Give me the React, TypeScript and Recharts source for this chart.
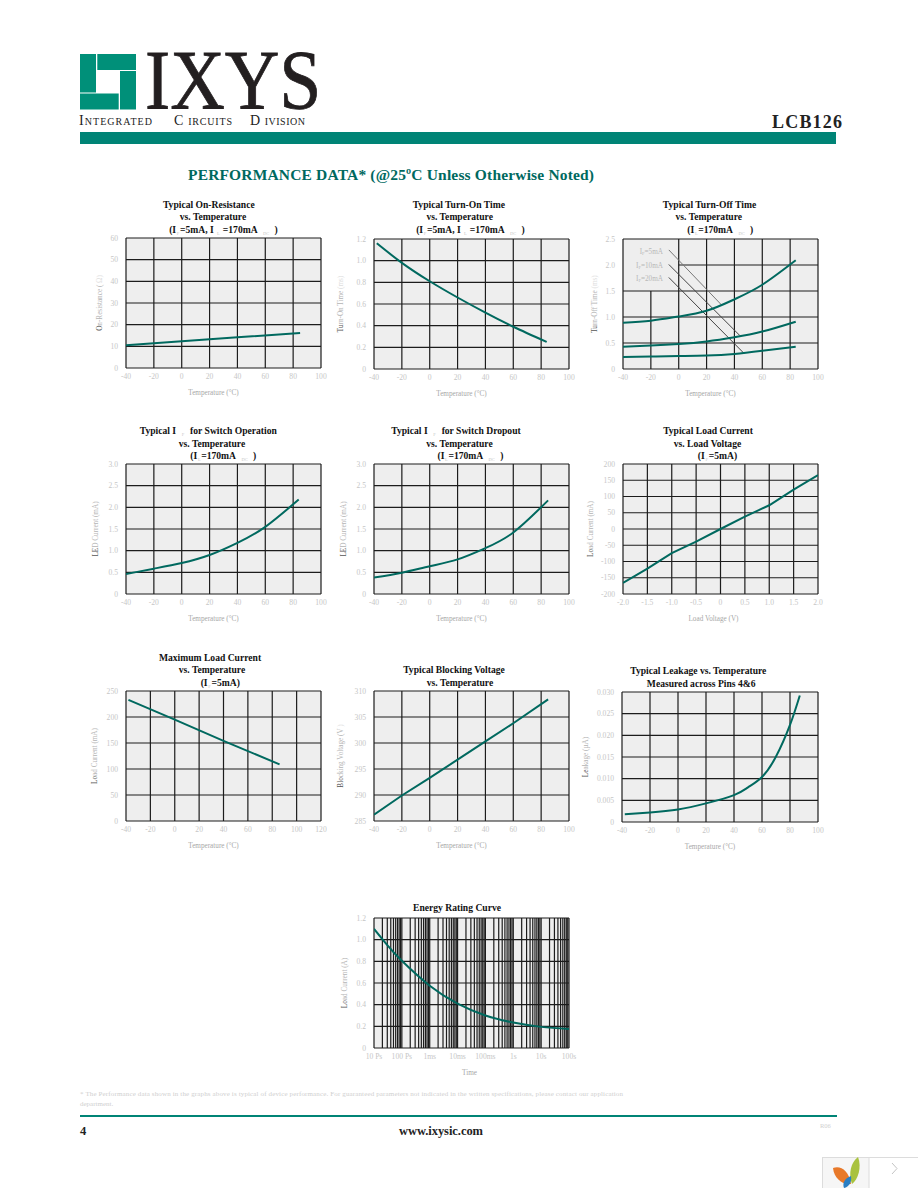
import React from 'react';
import { LineChart, Line, XAxis, YAxis, CartesianGrid, ReferenceLine } from 'recharts';

const SERIF = '"Liberation Serif", serif';
const TEAL = '#00695f';

// x axes
const TEMP_TICKS = [-40, -20, 0, 20, 40, 60, 80, 100];
const TEMP_TICKS_WIDE = [-40, -20, 0, 20, 40, 60, 80, 100, 120];
const VOLT_TICKS = [-2, -1.5, -1, -0.5, 0, 0.5, 1, 1.5, 2];
const VOLT_LABELS = ['-2.0', '-1.5', '-1.0', '-0.5', '0', '0.5', '1.0', '1.5', '2.0'];
const TIME_TICKS = [0.00001, 0.0001, 0.001, 0.01, 0.1, 1, 10, 100];
const TIME_LABELS = ['10 Ps', '100 Ps', '1ms', '10ms', '100ms', '1s', '10s', '100s'];
const TIME_MINOR = [
  0.00001, 0.00002, 0.00003, 0.00004, 0.00005, 0.00006, 0.00007, 0.00008, 0.00009,
  0.0001, 0.0002, 0.0003, 0.0004, 0.0005, 0.0006, 0.0007, 0.0008, 0.0009,
  0.001, 0.002, 0.003, 0.004, 0.005, 0.006, 0.007, 0.008, 0.009,
  0.01, 0.02, 0.03, 0.04, 0.05, 0.06, 0.07, 0.08, 0.09,
  0.1, 0.2, 0.3, 0.4, 0.5, 0.6, 0.7, 0.8, 0.9,
  1, 2, 3, 4, 5, 6, 7, 8, 9,
  10, 20, 30, 40, 50, 60, 70, 80, 90, 100,
];

// On-resistance
const ON_RES_T = [-40, 0, 40, 85];
const ON_RES = [10.5, 12.4, 14.2, 16.1];
// Turn-on time
const TON_T = [-38, -20, 0, 20, 40, 60, 84];
const TON = [1.16, 0.98, 0.81, 0.66, 0.52, 0.39, 0.25];
// Turn-off time, three LED currents
const TOFF_T = [-40, -20, 0, 20, 40, 60, 84];
const TOFF_5 = [0.89, 0.93, 1.01, 1.12, 1.34, 1.62, 2.09];
const TOFF_10 = [0.43, 0.45, 0.48, 0.53, 0.61, 0.72, 0.91];
const TOFF_20 = [0.23, 0.24, 0.25, 0.26, 0.29, 0.35, 0.43];
// LED current for operation / dropout
const LED_OP_T = [-40, -20, 0, 20, 40, 60, 84];
const LED_OP = [0.46, 0.585, 0.715, 0.9, 1.18, 1.55, 2.18];
const LED_DROP_T = [-40, -20, 0, 20, 40, 60, 85];
const LED_DROP = [0.38, 0.49, 0.64, 0.8, 1.06, 1.42, 2.16];
// Load current vs load voltage
const LOAD_V = [-2, -1.5, -1, -0.5, 0, 0.5, 1, 1.5, 2];
const LOAD_I = [-166, -122, -74, -39, 0, 38, 73, 121, 166];
// Maximum load current
const MAX_LOAD_T = [-38, 0, 40, 86];
const MAX_LOAD = [233, 195, 154, 109];
// Blocking voltage
const BLOCK_T = [-40, -20, 0, 20, 40, 60, 85];
const BLOCK = [286.2, 289.9, 293.3, 296.8, 300.3, 303.8, 308.4];
// Leakage
const LEAK_T = [-38, -20, 0, 20, 40, 50, 60, 70, 80, 87];
const LEAK = [0.0018, 0.0022, 0.0029, 0.0043, 0.0062, 0.008, 0.0104, 0.0151, 0.0224, 0.0292];
// Energy rating
const ENERGY_T = [0.00001, 0.00003, 0.0001, 0.001, 0.01, 0.1, 1, 10, 100];
const ENERGY = [1.1, 0.95, 0.805, 0.575, 0.41, 0.3, 0.235, 0.195, 0.176];

const rows = (xs: number[], ys: number[]) => xs.map((x, i) => ({ x, y: ys[i] }));

// {F|4} is a pale subscript in a 4px wide slot
const renderMarked = (s: string) =>
  s.split(/(\{[^}]*\})/).map((part, i) => {
    if (!part.startsWith('{')) return <span key={i}>{part}</span>;
    const [sub, slot] = part.slice(1, -1).split('|');
    return (
      <span
        key={i}
        style={{
          display: 'inline-block',
          width: Number(slot),
          textAlign: 'center',
          fontSize: 4.5,
          fontWeight: 400,
          color: '#c8c8c8',
          verticalAlign: -2,
          lineHeight: '6px',
        }}
      >
        {sub}
      </span>
    );
  });

const TitleLine = ({ text, cx, y }: { text: string; cx: number; y: number }) => (
  <div
    style={{
      position: 'absolute',
      left: cx - 150,
      top: y - 7,
      width: 300,
      height: 14,
      lineHeight: '14px',
      textAlign: 'center',
      fontFamily: SERIF,
      fontWeight: 700,
      fontSize: 9.6,
      color: '#111',
      whiteSpace: 'pre',
    }}
  >
    {renderMarked(text)}
  </div>
);

interface PerfProps {
  left: number;
  top: number;
  width?: number;
  height?: number;
  xTicks: number[];
  xLabels?: string[];
  xLog?: boolean;
  yTicks: number[];
  yLabels: string[];
  xTitle: string;
  xTitleDx?: number;
  yTitle: string[];
  yTitleDx: number;
  data: any[];
  keys?: string[];
  curve?: 'natural' | 'monotone' | 'linear';
  gridX?: number[];
  gridY?: number[];
  children?: React.ReactNode;
}

// left/top are the plot corner on the page
const PerfChart = (p: PerfProps) => {
  const w = p.width ?? 195;
  const h = p.height ?? 130;
  const m = { left: 40, top: 10, right: 20, bottom: 10 };
  const yAxisW = 30;
  const xAxisH = 34;
  const plotLeft = m.left + yAxisW;
  const cw = w + plotLeft + m.right;
  const ch = h + m.top + m.bottom + xAxisH;
  const keys = p.keys ?? ['y'];
  const ylo = p.yTicks[0];
  const yhi = p.yTicks[p.yTicks.length - 1];
  const xlo = p.xTicks[0];
  const xhi = p.xTicks[p.xTicks.length - 1];

  const xLabelEl = () => (
    <text
      x={plotLeft + w / 2 + (p.xTitleDx ?? -10)}
      y={m.top + h + 27}
      textAnchor="middle"
      fontFamily={SERIF}
      fontSize={7.2}
      fill="#a8a8a8"
    >
      {p.xTitle}
    </text>
  );
  const yx = plotLeft - p.yTitleDx;
  const yy = m.top + h / 2;
  const yLabelEl = () => (
    <text
      transform={`translate(${yx},${yy}) rotate(-90)`}
      textAnchor="middle"
      dy="0.3em"
      fontFamily={SERIF}
      fontSize={7.2}
    >
      <tspan fill="#555">{p.yTitle[0]}</tspan>
      <tspan fill="#b4b4b4">{p.yTitle[1]}</tspan>
      <tspan fill="#dedede">{p.yTitle[2]}</tspan>
    </text>
  );

  return (
    <div style={{ position: 'absolute', left: p.left - plotLeft, top: p.top - m.top }}>
      <LineChart width={cw} height={ch} data={p.data} margin={m}>
        <CartesianGrid
          stroke="#1c1c1c"
          strokeWidth={1.2}
          fill="#eeeeee"
          fillOpacity={1}
          verticalValues={p.gridX ?? p.xTicks}
          horizontalValues={p.gridY ?? p.yTicks}
        />
        <XAxis
          dataKey="x"
          type="number"
          scale={p.xLog ? 'log' : 'auto'}
          domain={[xlo, xhi]}
          ticks={p.xTicks}
          interval={0}
          height={xAxisH}
          axisLine={false}
          tickLine={false}
          tickMargin={0}
          allowDataOverflow
          tick={{ fontFamily: SERIF, fontSize: 7.6, fill: '#c6c6c6' }}
          tickFormatter={(v: number) => (p.xLabels ? p.xLabels[p.xTicks.indexOf(v)] : String(v))}
          label={{ content: xLabelEl }}
        />
        <YAxis
          type="number"
          domain={[ylo, yhi]}
          ticks={p.yTicks}
          interval={0}
          width={yAxisW}
          axisLine={false}
          tickLine={false}
          tick={{ fontFamily: SERIF, fontSize: 7.6, fill: '#c6c6c6' }}
          tickFormatter={(v: number) => p.yLabels[p.yTicks.indexOf(v)]}
          label={{ content: yLabelEl }}
        />
        {p.children}
        {keys.map((k) => (
          <Line
            key={k}
            dataKey={k}
            type={p.curve ?? 'natural'}
            stroke={TEAL}
            strokeWidth={2}
            dot={false}
            isAnimationActive={false}
          />
        ))}
      </LineChart>
    </div>
  );
};

const TOFF_ROWS = TOFF_T.map((x, i) => ({ x, a: TOFF_5[i], b: TOFF_10[i], c: TOFF_20[i] }));

const App = () => (
  <div style={{ position: 'absolute', left: 0, top: 0, width: 918, height: 1188, background: '#fff', overflow: 'hidden' }}>
    {/* page furniture */}
    <svg width={918} height={1188} style={{ position: 'absolute', left: 0, top: 0 }}>
      <g fill="#009079">
        <rect x={80} y={54} width={16} height={38.5} />
        <rect x={97.3} y={54} width={38.7} height={16} />
        <rect x={120} y={71} width={16} height={38.5} />
        <rect x={80} y={93.5} width={38.7} height={16} />
      </g>
      <g fontFamily={SERIF} fill="#222">
        <text x={79} y={125} fontSize={14} textLength={73}>
          I<tspan fontSize={10}>NTEGRATED</tspan>
        </text>
        <text x={174} y={125} fontSize={14} textLength={58}>
          C<tspan fontSize={10} dx={4}>IRCUITS</tspan>
        </text>
        <text x={250} y={125} fontSize={14} textLength={55}>
          D<tspan fontSize={10} dx={4}>IVISION</tspan>
        </text>
      </g>
      <text x={772} y={128} fontFamily={SERIF} fontWeight={700} fontSize={18} fill="#222" textLength={70}>LCB126</text>
      <rect x={80} y={132} width={756} height={12} fill="#008476" />
      <text x={188} y={180} fontFamily={SERIF} fontWeight={700} fontSize={15.5} fill="#00695f" textLength={406}>
        PERFORMANCE DATA* (@25ºC Unless Otherwise Noted)
      </text>
      <g fontFamily={SERIF} fontSize={7} fill="#cfcfcf">
        <text x={80} y={1096} textLength={543}>
          * The Performance data shown in the graphs above is typical of device performance.  For guaranteed parameters not indicated in the written specifications, please contact our application
        </text>
        <text x={80} y={1106}>department.</text>
        <text x={820} y={1128} fontSize={6.5}>R06</text>
      </g>
      <rect x={80} y={1115} width={757} height={2} fill="#008476" />
      <text x={80} y={1135} fontFamily={SERIF} fontWeight={700} fontSize={12.5} fill="#222">4</text>
      <text x={399} y={1135} fontFamily={SERIF} fontWeight={700} fontSize={12.5} fill="#222" textLength={84}>www.ixysic.com</text>
      {/* viewer badge */}
      <rect x={822.5} y={1157.5} width={100} height={40} fill="#fff" stroke="#dcdcdc" />
      <rect x={823} y={1158} width={46} height={30} fill="#f6f6f6" />
      <line x1={869} y1={1158} x2={869} y2={1188} stroke="#dcdcdc" />
      <path d="M833 1168 C840 1165 849 1170 851 1184 C842 1185 834 1178 833 1168Z" fill="#e8792a" />
      <path d="M858 1157 C862 1167 858 1180 852 1184 C848 1174 851 1162 858 1157Z" fill="#a9c23f" />
      <path d="M851 1176 C852 1182 849 1187 844 1188 C842 1183 845 1178 851 1176Z" fill="#2a7fc4" />
      <path d="M892 1163 L897 1168.5 L892 1174" fill="none" stroke="#c4c4c4" />
    </svg>
    <div
      style={{
        position: 'absolute',
        left: 145,
        top: 53,
        height: 55,
        lineHeight: '55px',
        fontFamily: SERIF,
        fontSize: 84,
        color: '#231f20',
        WebkitTextStroke: '0.8px #231f20',
        transform: 'scaleX(0.9)',
        transformOrigin: 'left center',
      }}
    >
      IXYS
    </div>

    {/* Row 1 */}
    <TitleLine text="Typical On-Resistance" cx={208.8} y={204.7} />
    <TitleLine text="vs. Temperature" cx={213} y={216.7} />
    <TitleLine text="(I{F|4}=5mA, I{L|9}=170mA{DC|17})" cx={223.5} y={230} />
    <PerfChart
      left={126} top={238}
      xTicks={TEMP_TICKS} yTicks={[0, 10, 20, 30, 40, 50, 60]} yLabels={['0', '10', '20', '30', '40', '50', '60']}
      xTitle="Temperature (°C)" yTitle={['O', 'n-Resistance (', '        Ω)']} yTitleDx={26}
      data={rows(ON_RES_T, ON_RES)} curve="linear"
    />

    <TitleLine text="Typical Turn-On Time" cx={458.8} y={204.7} />
    <TitleLine text="vs. Temperature" cx={459.7} y={216.7} />
    <TitleLine text="(I{F|4}=5mA, I{L|9}=170mA{DC|17})" cx={470.5} y={230} />
    <PerfChart
      left={374} top={239}
      xTicks={TEMP_TICKS} yTicks={[0, 0.2, 0.4, 0.6, 0.8, 1, 1.2]} yLabels={['0', '0.2', '0.4', '0.6', '0.8', '1.0', '1.2']}
      xTitle="Temperature (°C)" yTitle={['Tu', 'rn-On Time', '      (ms)']} yTitleDx={33}
      data={rows(TON_T, TON)}
    />

    <TitleLine text="Typical Turn-Off Time" cx={709.5} y={204.7} />
    <TitleLine text="vs. Temperature" cx={708.8} y={216.7} />
    <TitleLine text="(I{L|4}=170mA{DC|17})" cx={720.3} y={230} />
    <PerfChart
      left={623} top={239}
      xTicks={TEMP_TICKS} yTicks={[0, 0.5, 1, 1.5, 2, 2.5]} yLabels={['0', '0.5', '1.0', '1.5', '2.0', '2.5']}
      gridX={[-40, 0, 20, 40, 60, 80, 100]} gridY={[0, 0.5, 1, 1.5, 2.5]}
      xTitle="Temperature (°C)" yTitle={['Tu', 'rn-Off Time', '      (ms)']} yTitleDx={28}
      data={TOFF_ROWS} keys={['a', 'b', 'c']}
    >
      <ReferenceLine segment={[{ x: 0, y: 2 }, { x: 100, y: 2 }]} stroke="#1c1c1c" strokeWidth={1.2} />
      <ReferenceLine segment={[{ x: -20, y: 0 }, { x: -20, y: 1.5 }]} stroke="#1c1c1c" strokeWidth={1.2} />
      <ReferenceLine segment={[{ x: -7.1, y: 2.29 }, { x: 30.8, y: 1.23 }]} stroke="#777" strokeWidth={1} />
      <ReferenceLine segment={[{ x: -7.1, y: 2.01 }, { x: 44, y: 0.64 }]} stroke="#444" strokeWidth={1} />
      <ReferenceLine segment={[{ x: -7.1, y: 1.76 }, { x: 46.9, y: 0.3 }]} stroke="#444" strokeWidth={1} />
    </PerfChart>
    <svg width={60} height={50} style={{ position: 'absolute', left: 620, top: 245 }}>
      <g fontFamily={SERIF} fontSize={7.2} fill="#b8b8b8" textAnchor="end">
        <text x={43} y={9}>I<tspan fontSize={4.5} dy={1}>F</tspan><tspan dy={-1}>=5mA</tspan></text>
        <text x={43} y={23}>I<tspan fontSize={4.5} dy={1}>F</tspan><tspan dy={-1}>=10mA</tspan></text>
        <text x={43} y={36}>I<tspan fontSize={4.5} dy={1}>F</tspan><tspan dy={-1}>=20mA</tspan></text>
      </g>
    </svg>

    {/* Row 2 */}
    <TitleLine text="Typical I{F|14}for Switch Operation" cx={208.3} y={431} />
    <TitleLine text="vs. Temperature" cx={212} y={444} />
    <TitleLine text="(I{L|4}=170mA{DC|17})" cx={223.3} y={456} />
    <PerfChart
      left={126} top={464}
      xTicks={TEMP_TICKS} yTicks={[0, 0.5, 1, 1.5, 2, 2.5, 3]} yLabels={['0', '0.5', '1.0', '1.5', '2.0', '2.5', '3.0']}
      xTitle="Temperature (°C)" yTitle={['LE', 'D Current (mA)', '']} yTitleDx={30}
      data={rows(LED_OP_T, LED_OP)}
    />

    <TitleLine text="Typical I{F|14}for Switch Dropout" cx={456} y={431} />
    <TitleLine text="vs. Temperature" cx={459.5} y={444} />
    <TitleLine text="(I{L|4}=170mA{DC|17})" cx={470.5} y={456} />
    <PerfChart
      left={374} top={464}
      xTicks={TEMP_TICKS} yTicks={[0, 0.5, 1, 1.5, 2, 2.5, 3]} yLabels={['0', '0.5', '1.0', '1.5', '2.0', '2.5', '3.0']}
      xTitle="Temperature (°C)" yTitle={['LE', 'D Current (mA)', '']} yTitleDx={30}
      data={rows(LED_DROP_T, LED_DROP)}
    />

    <TitleLine text="Typical Load Current" cx={708} y={431} />
    <TitleLine text="vs. Load Voltage" cx={707.5} y={444} />
    <TitleLine text="(I{F|4}=5mA)" cx={717.5} y={456} />
    <PerfChart
      left={623} top={464}
      xTicks={VOLT_TICKS} xLabels={VOLT_LABELS}
      yTicks={[-200, -150, -100, -50, 0, 50, 100, 150, 200]}
      yLabels={['-200', '-150', '-100', '-50', '0', '50', '100', '150', '200']}
      xTitle="Load Voltage (V)" xTitleDx={-7} yTitle={['Lo', 'ad Current (mA)', '']} yTitleDx={32}
      data={rows(LOAD_V, LOAD_I)} curve="linear"
    />

    {/* Row 3 */}
    <TitleLine text="Maximum Load Current" cx={210} y={658} />
    <TitleLine text="vs. Temperature" cx={212} y={670} />
    <TitleLine text="(I{F|4}=5mA)" cx={220.3} y={683} />
    <PerfChart
      left={126} top={691}
      xTicks={TEMP_TICKS_WIDE} yTicks={[0, 50, 100, 150, 200, 250]} yLabels={['0', '50', '100', '150', '200', '250']}
      xTitle="Temperature (°C)" yTitle={['Lo', 'ad Current (mA)', '']} yTitleDx={31}
      data={rows(MAX_LOAD_T, MAX_LOAD)} curve="linear"
    />

    <TitleLine text="Typical Blocking Voltage" cx={454} y={670} />
    <TitleLine text="vs. Temperature" cx={460} y={683} />
    <PerfChart
      left={374} top={691}
      xTicks={TEMP_TICKS} yTicks={[285, 290, 295, 300, 305, 310]} yLabels={['285', '290', '295', '300', '305', '310']}
      xTitle="Temperature (°C)" yTitle={['Blo', 'cking Voltage (V', '  )']} yTitleDx={33}
      data={rows(BLOCK_T, BLOCK)} curve="linear"
    />

    <TitleLine text="Typical Leakage vs. Temperature" cx={698.3} y={670.7} />
    <TitleLine text="Measured across Pins 4&6" cx={701.2} y={683.7} />
    <PerfChart
      left={622} top={692}
      width={196}
      xTicks={TEMP_TICKS}
      yTicks={[0, 0.005, 0.01, 0.015, 0.02, 0.025, 0.03]}
      yLabels={['0', '0.005', '0.010', '0.015', '0.020', '0.025', '0.030']}
      xTitle="Temperature (°C)" yTitle={['Le', 'akage (µA)', '']} yTitleDx={36}
      data={rows(LEAK_T, LEAK)}
    />

    {/* Row 4 */}
    <TitleLine text="Energy Rating Curve" cx={457} y={908.3} />
    <PerfChart
      left={374} top={918}
      xTicks={TIME_TICKS} xLabels={TIME_LABELS} xLog
      gridX={TIME_MINOR}
      yTicks={[0, 0.2, 0.4, 0.6, 0.8, 1, 1.2]} yLabels={['0', '0.2', '0.4', '0.6', '0.8', '1.0', '1.2']}
      xTitle="Time" xTitleDx={-2} yTitle={['Lo', 'ad Current (A)', '']} yTitleDx={29}
      data={rows(ENERGY_T, ENERGY)}
    />
  </div>
);

export default App;
